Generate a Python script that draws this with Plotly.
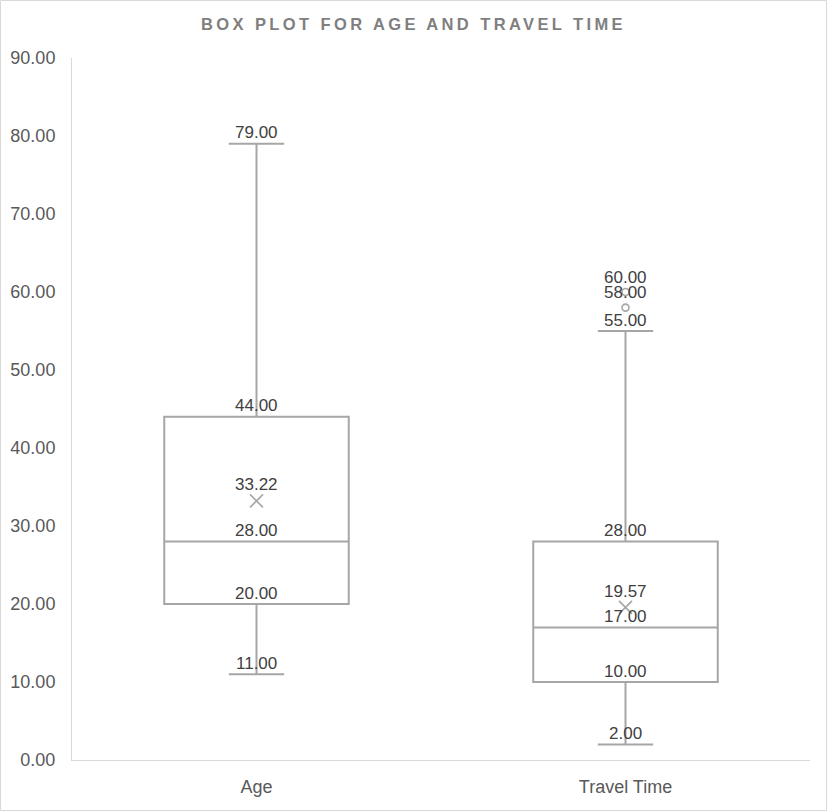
import plotly.graph_objects as go

categories = ["Age", "Travel Time"]
q1 = [20.0, 10.0]
median = [28.0, 17.0]
q3 = [44.0, 28.0]
lower_fence = [11.0, 2.0]
upper_fence = [79.0, 55.0]
means = [33.22, 19.57]
outlier_cat = ["Travel Time", "Travel Time"]
outlier_vals = [58.0, 60.0]

title_text = "BOX PLOT FOR AGE AND TRAVEL TIME"
GRAY = "#A6A6A6"
TXT = "#595959"
FONT = "Liberation Sans"

fig = go.Figure()
fig.add_trace(go.Box(
    x=categories, q1=q1, median=median, q3=q3,
    lowerfence=lower_fence, upperfence=upper_fence,
    line=dict(color=GRAY, width=2), fillcolor="white", width=0.5,
    whiskerwidth=0.3, boxpoints=False, showlegend=False,
))
fig.add_trace(go.Scatter(
    x=categories, y=means, mode="markers", showlegend=False,
    marker=dict(symbol="x-thin-open", size=13, color=GRAY, line=dict(color=GRAY, width=1.6)),
))
fig.add_trace(go.Scatter(
    x=outlier_cat, y=outlier_vals, mode="markers", showlegend=False,
    marker=dict(symbol="circle-open", size=7, color=GRAY, line=dict(color=GRAY, width=1.6)),
))

ann = []
def lab(xc, v, shift):
    ann.append(dict(x=xc, y=v, text=f"{v:.2f}", showarrow=False, yanchor="middle",
                    yshift=shift, font=dict(family=FONT, size=17, color="#404040")))

for i, c in enumerate(categories):
    for arr in (q1, median, q3, lower_fence, upper_fence):
        lab(c, arr[i], 11)
    lab(c, means[i], 16)
for c, v in zip(outlier_cat, outlier_vals):
    lab(c, v, 15)

W, H = 827, 811
ml, mr, mt, mb = 72, 17, 58, 51
pw, ph = W - ml - mr, H - mt - mb

fig.update_layout(
    width=W, height=H,
    margin=dict(l=ml, r=mr, t=mt, b=mb, autoexpand=False),
    plot_bgcolor="white", paper_bgcolor="white",
    title=dict(text=f'<span style="letter-spacing:3.4px">{title_text}</span>',
               x=0.5, xref="container", xanchor="center", y=1 - 24 / H, yanchor="middle",
               font=dict(family=FONT, size=16.5, color="#7F7F7F", weight="bold")),
    xaxis=dict(type="category", range=[-0.5, 1.5], showgrid=False, zeroline=False,
               showline=True, linecolor="#D9D9D9", linewidth=1, ticks="", automargin=False,
               tickfont=dict(family=FONT, size=18, color=TXT), ticklabelstandoff=10),
    yaxis=dict(range=[0, 90], dtick=10, tickformat=".2f", showgrid=False, zeroline=False,
               showline=True, linecolor="#D9D9D9", linewidth=1, ticks="", automargin=False,
               tickfont=dict(family=FONT, size=18, color=TXT), ticklabelstandoff=12),
    annotations=ann,
    shapes=[dict(type="rect", xref="paper", yref="paper",
                 x0=(0.5 - ml) / pw, x1=(W - 0.5 - ml) / pw,
                 y0=-(mb - 0.5) / ph, y1=1 + (mt - 0.5) / ph,
                 line=dict(color="#D9D9D9", width=1), layer="below")],
)

fig.write_html("out.html")
